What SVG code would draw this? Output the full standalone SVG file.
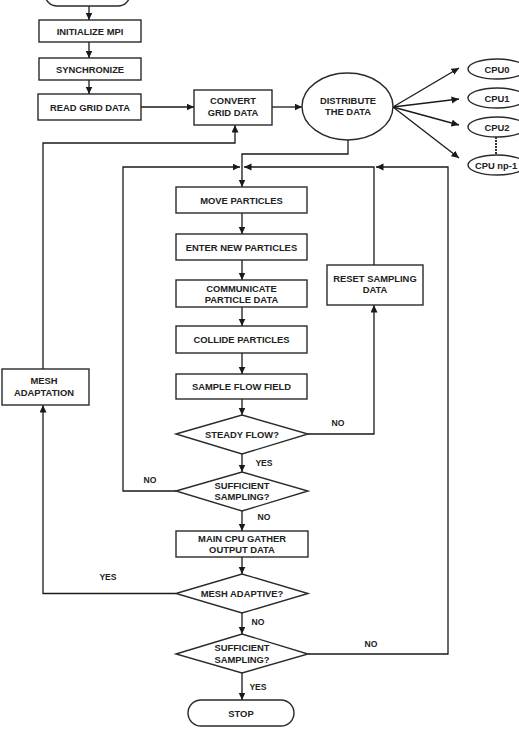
<svg xmlns="http://www.w3.org/2000/svg" width="519" height="732" viewBox="0 0 519 732">
<defs>
<marker id="ah" markerUnits="userSpaceOnUse" markerWidth="8" markerHeight="8" refX="7.5" refY="3.5" orient="auto">
<path d="M0,0 L7.5,3.5 L0,7 z" fill="#1a1a1a"/>
</marker>
<style>
.n rect, .n ellipse, .n polygon { fill:#fff; stroke:#2a2a2a; stroke-width:1.4; }
text { font-family:"Liberation Sans", Arial, sans-serif; font-weight:bold; font-size:9.4px; fill:#222; text-anchor:middle; }
.lbl { font-size:8.6px; }
#connectors path, #connectors line { fill:none; stroke:#1a1a1a; stroke-width:1.3; }
#connectors .dot { stroke-width:1.8; stroke-dasharray:2,1; }
.a { marker-end:url(#ah); }
</style>
</defs>
<rect width="519" height="732" fill="#fff"/>
<g id="connectors">
<line class="a" x1="89" y1="6" x2="89" y2="20"/>
<line class="a" x1="89" y1="42" x2="89" y2="58"/>
<line class="a" x1="89" y1="80" x2="89" y2="94"/>
<line class="a" x1="141" y1="107" x2="194" y2="107"/>
<line class="a" x1="272" y1="107" x2="302" y2="107"/>
<line class="a" x1="393" y1="107" x2="459" y2="68"/>
<line class="a" x1="393" y1="107" x2="459" y2="99"/>
<line class="a" x1="393" y1="107" x2="459" y2="125"/>
<line class="a" x1="393" y1="107" x2="459" y2="158"/>
<line class="dot" x1="496" y1="137" x2="496" y2="155"/>
<path class="a" d="M348,140 V154 H242 V187"/>
<line class="a" x1="242" y1="213" x2="242" y2="234"/>
<line class="a" x1="242" y1="260" x2="242" y2="280"/>
<line class="a" x1="242" y1="307" x2="242" y2="326"/>
<line class="a" x1="242" y1="353" x2="242" y2="374"/>
<line class="a" x1="242" y1="399" x2="242" y2="415"/>
<line class="a" x1="242" y1="454" x2="242" y2="472"/>
<path class="a" d="M308,434 H374 V305"/>
<path class="a" d="M374,265 V167 H244"/>
<path class="a" d="M176,491 H123 V167 H240"/>
<line class="a" x1="242" y1="511" x2="242" y2="531"/>
<line class="a" x1="242" y1="557" x2="242" y2="574"/>
<path class="a" d="M176,593.5 H43 V405"/>
<path class="a" d="M43,369 V143 H235 V125"/>
<line class="a" x1="242" y1="613" x2="242" y2="634"/>
<path class="a" d="M308,654 H448 V167 H376"/>
<line class="a" x1="242" y1="673" x2="242" y2="700"/>
<text class="lbl" x="338" y="426">NO</text>
<text class="lbl" x="264" y="466">YES</text>
<text class="lbl" x="150" y="483">NO</text>
<text class="lbl" x="264" y="520">NO</text>
<text class="lbl" x="108" y="580">YES</text>
<text class="lbl" x="258" y="625">NO</text>
<text class="lbl" x="371" y="647">NO</text>
<text class="lbl" x="258" y="690">YES</text>
</g>
<g id="start" class="n"><rect x="45" y="-20" width="85" height="26" rx="12"/></g>
<g id="init" class="n"><rect x="39" y="20" width="102" height="22"/><text x="90" y="34.5">INITIALIZE MPI</text></g>
<g id="sync" class="n"><rect x="39" y="58" width="102" height="22"/><text x="90" y="72.5">SYNCHRONIZE</text></g>
<g id="read" class="n"><rect x="38" y="94" width="103" height="26"/><text x="90" y="110.5">READ GRID DATA</text></g>
<g id="convert" class="n"><rect x="194" y="90" width="78" height="35"/><text x="233" y="104">CONVERT</text><text x="233" y="115.5">GRID DATA</text></g>
<g id="distribute" class="n"><ellipse cx="347.5" cy="106.5" rx="45.5" ry="33.5"/><text x="348" y="103.5">DISTRIBUTE</text><text x="348" y="115">THE DATA</text></g>
<g id="cpu0" class="n"><ellipse cx="497" cy="69" rx="29" ry="10"/><text x="497" y="72.5">CPU0</text></g>
<g id="cpu1" class="n"><ellipse cx="497" cy="98" rx="29" ry="10"/><text x="497" y="101.5">CPU1</text></g>
<g id="cpu2" class="n"><ellipse cx="497" cy="127" rx="29" ry="10"/><text x="497" y="130.5">CPU2</text></g>
<g id="cpunp1" class="n"><ellipse cx="497" cy="165" rx="29" ry="10"/><text x="496" y="168.5">CPU np-1</text></g>
<g id="move" class="n"><rect x="176" y="187" width="131" height="26"/><text x="241.5" y="203.5">MOVE PARTICLES</text></g>
<g id="enter" class="n"><rect x="176" y="234" width="131" height="26"/><text x="241.5" y="250.5">ENTER NEW PARTICLES</text></g>
<g id="communicate" class="n"><rect x="176" y="280" width="131" height="27"/><text x="241.5" y="291.5">COMMUNICATE</text><text x="241.5" y="303">PARTICLE DATA</text></g>
<g id="collide" class="n"><rect x="176" y="326" width="131" height="27"/><text x="241.5" y="343">COLLIDE PARTICLES</text></g>
<g id="sample" class="n"><rect x="176" y="374" width="131" height="25"/><text x="241.5" y="390">SAMPLE FLOW FIELD</text></g>
<g id="reset" class="n"><rect x="327" y="265" width="96" height="40"/><text x="375" y="281.5">RESET SAMPLING</text><text x="375" y="293">DATA</text></g>
<g id="meshadapt" class="n"><rect x="2" y="369" width="87" height="36"/><text x="44" y="384">MESH</text><text x="44" y="395.5">ADAPTATION</text></g>
<g id="steady" class="n"><polygon points="176,434 242,415 308,434 242,454"/><text x="242" y="437.5">STEADY FLOW?</text></g>
<g id="suff1" class="n"><polygon points="176,491 242,472 308,491 242,511"/><text x="242" y="488.5">SUFFICIENT</text><text x="242" y="500">SAMPLING?</text></g>
<g id="gather" class="n"><rect x="176" y="531" width="132" height="26"/><text x="242" y="541.5">MAIN CPU GATHER</text><text x="242" y="553">OUTPUT DATA</text></g>
<g id="meshq" class="n"><polygon points="176,593.5 242,574 308,593.5 242,613"/><text x="242" y="597">MESH ADAPTIVE?</text></g>
<g id="suff2" class="n"><polygon points="176,654 242,634 308,654 242,673"/><text x="242" y="651">SUFFICIENT</text><text x="242" y="662.5">SAMPLING?</text></g>
<g id="stop" class="n"><rect x="188" y="700" width="106" height="26" rx="13"/><text x="241" y="716.5">STOP</text></g>
</svg>
